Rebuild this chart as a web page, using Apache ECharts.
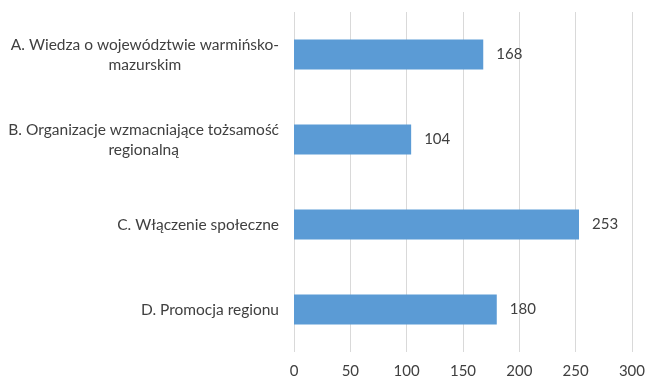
<!DOCTYPE html>
<html>
<head>
<meta charset="utf-8">
<script src="https://cdn.jsdelivr.net/npm/echarts@6/dist/echarts.min.js"></script>
<style>
  html, body { margin: 0; padding: 0; background: #fff; }
  #chart { width: 648px; height: 380px; }
</style>
</head>
<body>
<div id="chart"></div>
<script>
// Categories (explicit line breaks where the label wraps)
const categories = [
  'A. Wiedza o województwie warmińsko-\nmazurskim',
  'B. Organizacje wzmacniające tożsamość\nregionalną',
  'C. Włączenie społeczne',
  'D. Promocja regionu'
];
const values = [168, 104, 253, 180];
const axisMin = 0;
const axisMax = 300;
const axisStep = 50;

const FONT = 'Lato, "Noto Sans", sans-serif';
const TEXT = '#404040';

const chart = echarts.init(document.getElementById('chart'), null, { renderer: 'canvas' });
chart.setOption({
  animation: false,
  backgroundColor: '#ffffff',
  grid: { left: 294, right: 15, top: 12, bottom: 28, containLabel: false },
  xAxis: {
    type: 'value',
    min: axisMin,
    max: axisMax,
    interval: axisStep,
    axisLine: { show: false },
    axisTick: { show: false },
    splitLine: { show: true, lineStyle: { color: '#d9d9d9', width: 1 } },
    axisLabel: { color: TEXT, fontFamily: FONT, fontSize: 15, margin: 12 }
  },
  yAxis: {
    type: 'category',
    data: categories,
    inverse: true,
    axisLine: { show: false },
    axisTick: { show: false },
    splitLine: { show: false },
    axisLabel: {
      margin: 15,
      align: 'right',
      formatter: v => v.split('\n').map(l => '{c|' + l + '}').join('\n'),
      rich: {
        c: { align: 'center', color: TEXT, fontFamily: FONT, fontSize: 15.5, lineHeight: 20 }
      }
    }
  },
  series: [{
    type: 'bar',
    data: values,
    barWidth: 30,
    itemStyle: { color: '#5b9bd5' },
    label: {
      show: true,
      position: 'right',
      distance: 13,
      color: TEXT,
      fontFamily: FONT,
      fontSize: 15
    }
  }]
});
</script>
</body>
</html>
